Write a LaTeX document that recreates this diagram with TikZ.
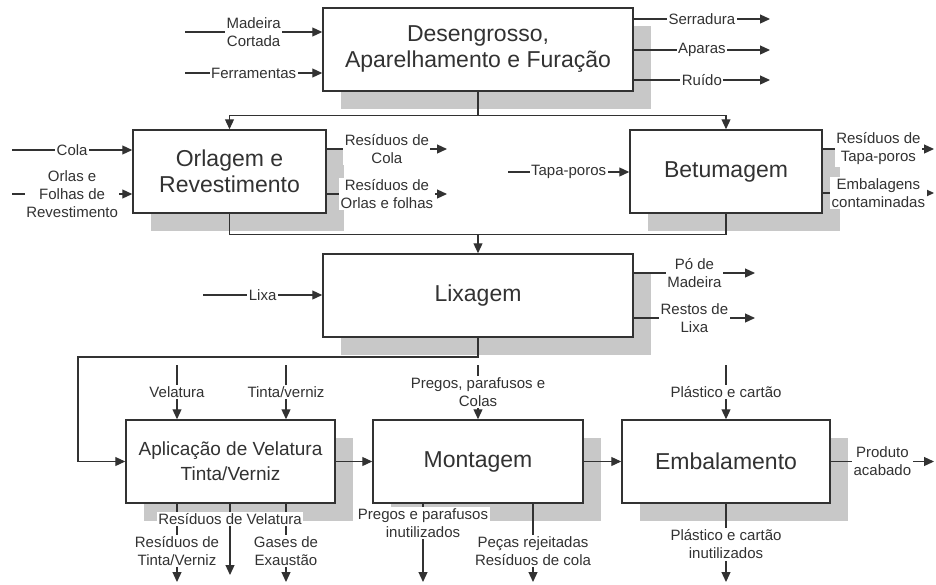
\documentclass[tikz,border=0pt]{standalone}
\usepackage{fontspec}
\setmainfont{Liberation Sans}
\usepackage{tikz}
\usetikzlibrary{arrows.meta}

\definecolor{shadowgray}{RGB}{200,200,200}
\definecolor{inkgray}{RGB}{50,50,50}

\newcommand{\smallfnt}{\fontsize{15}{18}\selectfont}
\newcommand{\bigfnt}{\fontsize{23}{26}\selectfont}
\newcommand{\midfnt}{\fontsize{19}{25}\selectfont}

\begin{document}
\begin{tikzpicture}[x=1pt,y=-1pt,text=inkgray,
    procbox/.style={draw=inkgray,line width=1.5pt,fill=white,minimum height=83pt,
      align=center,font=\bigfnt,inner sep=2pt,
      preaction={fill=shadowgray,draw=none,transform canvas={shift={(18pt,-18pt)}}}},
    flow/.style={draw=inkgray,line width=1.2pt,-{Triangle[length=10pt,width=9pt]}},
    link/.style={draw=inkgray,line width=1.2pt},
    lbl/.style={fill=white,inner sep=1.5pt,align=center,font=\smallfnt,text=inkgray}]
  \useasboundingbox (0,0) rectangle (936,584);

  % process boxes
  \node[procbox,minimum width=310pt] (des) at (478,49.5) {Desengrosso,\\Aparelhamento e Furação};
  \node[procbox,minimum width=193pt] (orl) at (229.5,171.5) {Orlagem e\\Revestimento};
  \node[procbox,minimum width=192pt] (bet) at (726,171.5) {Betumagem};
  \node[procbox,minimum width=310pt] (lix) at (478,295.5) {Lixagem};
  \node[procbox,minimum width=209pt,font=\midfnt] (apl) at (230.5,461.5) {Aplicação de Velatura\\Tinta/Verniz};
  \node[procbox,minimum width=210pt] (mon) at (478,461.5) {Montagem};
  \node[procbox,minimum width=208pt] (emb) at (726,461.5) {Embalamento};

  % free ends
  \coordinate (inMad) at (185,32);
  \coordinate (inFer) at (185,73);
  \coordinate (outSer) at (770,19);
  \coordinate (outApa) at (770,50);
  \coordinate (outRui) at (770,80);
  \coordinate (inCol) at (12,150);
  \coordinate (inOrl) at (12,194);
  \coordinate (outRCo) at (447,149);
  \coordinate (outROr) at (447,194);
  \coordinate (inTap) at (508,172);
  \coordinate (outRTa) at (934,149);
  \coordinate (outEmb) at (934,193);
  \coordinate (inLix) at (203,295);
  \coordinate (outPo) at (755,273);
  \coordinate (outRLi) at (755,318);
  \coordinate (bend) at (78,357);
  \coordinate (inVel) at (177,365);
  \coordinate (inTin) at (286,365);
  \coordinate (inPre) at (478,365);
  \coordinate (inPla) at (726,365);
  \coordinate (outRTV) at (177,582);
  \coordinate (outRVe) at (230,575);
  \coordinate (outGas) at (286,582);
  \coordinate (outPPI) at (423,582);
  \coordinate (outPec) at (533,582);
  \coordinate (outPlI) at (726,582);
  \coordinate (outPro) at (934,461.5);

  % main flow
  \draw[link] (des.south) -- ++(0,24) coordinate (j1);
  \draw[flow] (j1) -| (orl.north);
  \draw[flow] (j1) -| (bet.north);
  \draw[link] (orl.south) -- ++(0,21) coordinate (j2) -| (bet.south);
  \draw[flow] (j2 -| lix.north) -- (lix.north);
  \draw[flow] (lix.south) |- (bend) |- (apl.west);
  \draw[flow] (apl) -- (mon);
  \draw[flow] (mon) -- (emb);

  % Desengrosso
  \path (inMad) edge[flow] node[lbl] {Madeira\\Cortada} (inMad -| des.west)
        (inFer) edge[flow] node[lbl] {Ferramentas} (inFer -| des.west)
        (outSer -| des.east) edge[flow] node[lbl] {Serradura} (outSer)
        (outApa -| des.east) edge[flow] node[lbl] {Aparas} (outApa)
        (outRui -| des.east) edge[flow] node[lbl] {Ruído} (outRui);

  % Orlagem
  \path (inCol) edge[flow] node[lbl] {Cola} (inCol -| orl.west)
        (inOrl) edge[flow] node[lbl] {Orlas e\\Folhas de\\Revestimento} (inOrl -| orl.west)
        (outRCo -| orl.east) edge[flow] node[lbl] {Resíduos de\\Cola} (outRCo)
        (outROr -| orl.east) edge[flow] node[lbl] {Resíduos de\\Orlas e folhas} (outROr);

  % Betumagem
  \path (inTap) edge[flow] node[lbl] {Tapa-poros} (inTap -| bet.west)
        (outRTa -| bet.east) edge[flow] node[lbl] {Resíduos de\\Tapa-poros} (outRTa)
        (outEmb -| bet.east) edge[flow] node[lbl] {Embalagens\\contaminadas} (outEmb);

  % Lixagem
  \path (inLix) edge[flow] node[lbl] {Lixa} (inLix -| lix.west)
        (outPo -| lix.east) edge[flow] node[lbl] {Pó de\\Madeira} (outPo)
        (outRLi -| lix.east) edge[flow] node[lbl] {Restos de\\Lixa} (outRLi);

  % Aplicacao
  \path (inVel) edge[flow] node[lbl] {Velatura} (inVel |- apl.north)
        (inTin) edge[flow] node[lbl] {Tinta/verniz} (inTin |- apl.north)
        (outRTV |- apl.south) edge[flow] node[lbl,pos=.6] {Resíduos de\\Tinta/Verniz} (outRTV)
        (outGas |- apl.south) edge[flow] node[lbl,pos=.6] {Gases de\\Exaustão} (outGas)
        (outRVe |- apl.south) edge[flow] node[lbl,pos=.21] {Resíduos de Velatura} (outRVe);

  % Montagem
  \path (inPre) edge[flow] node[lbl] {Pregos, parafusos e\\Colas} (inPre |- mon.north)
        (outPPI |- mon.south) edge[flow] node[lbl,pos=.25] {Pregos e parafusos\\inutilizados} (outPPI)
        (outPec |- mon.south) edge[flow] node[lbl,pos=.6] {Peças rejeitadas\\Resíduos de cola} (outPec);

  % Embalamento
  \path (inPla) edge[flow] node[lbl] {Plástico e cartão} (inPla |- emb.north)
        (outPlI |- emb.south) edge[flow] node[lbl,pos=.52] {Plástico e cartão\\inutilizados} (outPlI)
        (outPro -| emb.east) edge[flow] node[lbl] {Produto\\acabado} (outPro);
\end{tikzpicture}
\end{document}
